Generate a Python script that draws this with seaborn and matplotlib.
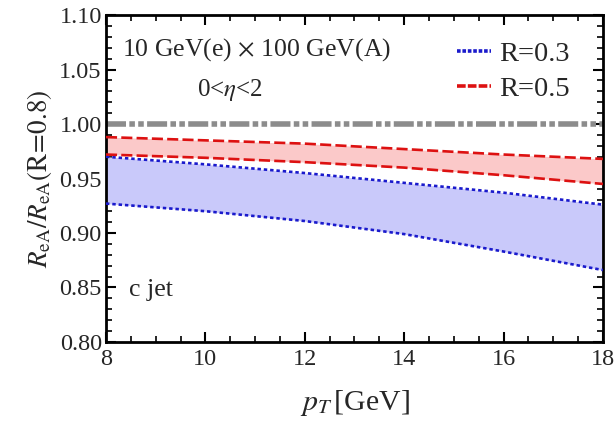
import numpy as np
import pandas as pd
import matplotlib
matplotlib.use("Agg")
import matplotlib.pyplot as plt
from matplotlib.ticker import MultipleLocator
from matplotlib.lines import Line2D
import seaborn as sns

# Ratio of R_eA for jet radius R to R_eA(R=0.8), c jets, 0<eta<2
pt = [8, 10, 12, 14, 16, 18]
r03_upper = [0.970, 0.963, 0.955, 0.946, 0.937, 0.926]
r03_lower = [0.927, 0.920, 0.911, 0.899, 0.883, 0.866]
r05_upper = [0.988, 0.985, 0.982, 0.977, 0.972, 0.968]
r05_lower = [0.972, 0.969, 0.965, 0.960, 0.953, 0.945]
reference_level = 1.0

x_ticks = [8, 10, 12, 14, 16, 18]
y_ticks = [0.80, 0.85, 0.90, 0.95, 1.00, 1.05, 1.10]

sns.set_theme(style="ticks")
plt.rcParams["font.family"] = ["Liberation Serif", "DejaVu Serif"]
plt.rcParams["mathtext.fontset"] = "stix"

blue_line = "#1a1acc"
red_line = "#dd1111"
blue_fill = "#c9c9fa"
red_fill = "#fbc9c9"

rows = []
for name, up, lo in [("R=0.3", r03_upper, r03_lower), ("R=0.5", r05_upper, r05_lower)]:
    for x, u, l in zip(pt, up, lo):
        rows.append({"pt": x, "ratio": u, "band": name, "edge": "upper"})
        rows.append({"pt": x, "ratio": l, "band": name, "edge": "lower"})
df = pd.DataFrame(rows)

fig = plt.figure(figsize=(6.14, 4.23), dpi=100)
ax = fig.add_axes([0.1726, 0.1915, 0.8094, 0.773])

# shaded bands
ax.fill_between(pt, r03_lower, r03_upper, color=blue_fill, lw=0, zorder=1)
ax.fill_between(pt, r05_lower, r05_upper, color=red_fill, lw=0, zorder=1)

# band edges
styles = {"R=0.3": (blue_line, (0, (1.3, 1.1))), "R=0.5": (red_line, (0, (4.2, 1.6)))}
for (name, edge), sub in df.groupby(["band", "edge"]):
    color, dash = styles[name]
    sns.lineplot(data=sub, x="pt", y="ratio", ax=ax, color=color, lw=1.9,
                 linestyle=dash, zorder=3, legend=False)

# unity reference
ax.axhline(reference_level, color="#8c8c8c", lw=4.0,
           linestyle=(0, (3.6, 0.6, 1.0, 0.6, 1.0, 0.6)), zorder=2)

ax.set_xlim(8, 18)
ax.set_ylim(0.80, 1.10)
ax.set_xticks(x_ticks)
ax.set_yticks(y_ticks)
ax.set_xticklabels([str(t) for t in x_ticks])
ax.set_yticklabels([f"{t:.2f}" for t in y_ticks])
ax.xaxis.set_minor_locator(MultipleLocator(0.5))
ax.yaxis.set_minor_locator(MultipleLocator(0.01))
ax.tick_params(which="both", direction="in", top=True, right=True, color="black")
ax.tick_params(which="major", length=7, width=1.5, labelsize=17.5)
ax.tick_params(axis="x", which="major", pad=5)
ax.tick_params(axis="y", which="major", pad=3)
ax.tick_params(which="minor", length=4, width=1.2)
for s in ax.spines.values():
    s.set_linewidth(2.0)
    s.set_color("black")

ax.set_xlabel(r"$p_T\,$[GeV]", fontsize=21.5, labelpad=13)
ax.set_ylabel(r"$R_{\mathrm{eA}}/R_{\mathrm{eA}}(\mathrm{R\!=\!0.8})$", fontsize=19.5, labelpad=4)

ax.text(8.32, 1.068, r"10 GeV(e) $\times$ 100 GeV(A)", fontsize=18.5, va="center", ha="left")
ax.text(10.5, 1.031, r"0<$\eta$<2", fontsize=18, va="center", ha="center")
ax.text(8.47, 0.848, "c jet", fontsize=18.5, va="center", ha="left")

handles = [Line2D([], [], color=blue_line, lw=2.6, linestyle=(0, (1.0, 0.5))),
           Line2D([], [], color=red_line, lw=2.6, linestyle=(0, (2.4, 0.6)))]
ax.legend(handles, ["R=0.3", "R=0.5"], loc="upper right", frameon=False,
          fontsize=20.5, handlelength=1.2, handletextpad=0.3, labelspacing=0.32,
          borderaxespad=0.0, borderpad=0.0, bbox_to_anchor=(0.934, 0.92))

fig.savefig("out.png", dpi=100)
